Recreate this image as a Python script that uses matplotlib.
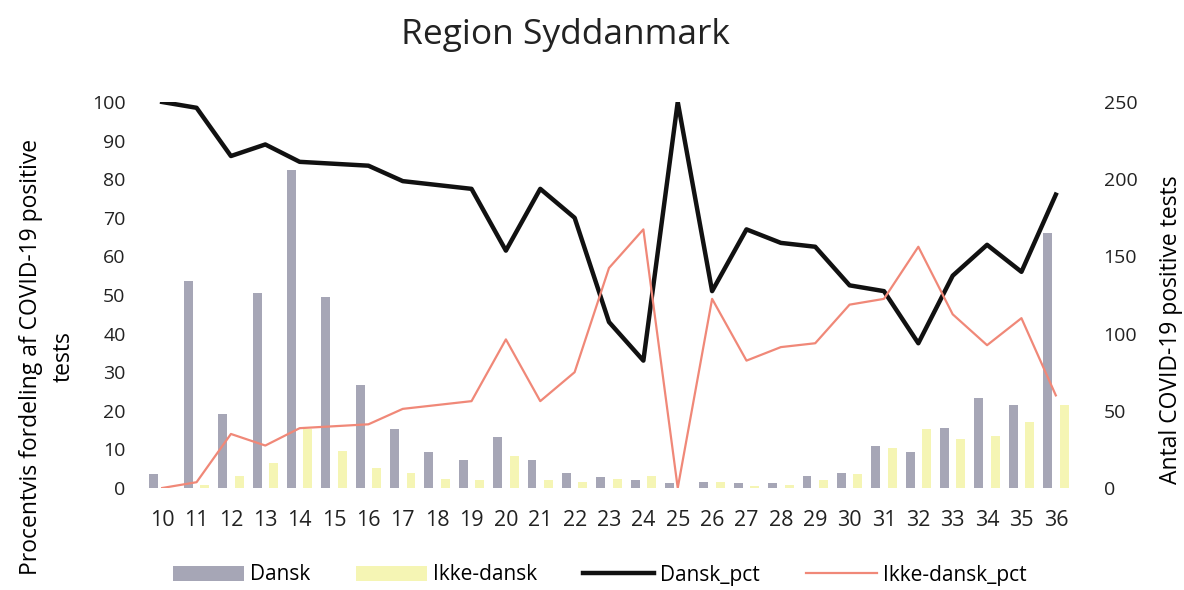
import matplotlib
matplotlib.use("Agg")
import matplotlib.pyplot as plt
import numpy as np

plt.rcParams['font.family'] = ['Open Sans', 'DejaVu Sans']

weeks = [str(w) for w in range(10, 37)]
dansk = [9, 134, 48, 126, 206, 124, 67, 38, 23, 18, 33, 18, 10, 7, 5, 3, 4, 3, 3,
         8, 10, 27, 23, 39, 58, 54, 165]
ikke_dansk = [0, 2, 8, 16, 38, 24, 13, 10, 6, 5, 21, 5, 4, 6, 8, 0, 4, 1.5, 2,
              5, 9, 26, 38, 32, 34, 43, 54]
dansk_pct = [100, 98.5, 86, 89, 84.5, 84, 83.5, 79.5, 78.5, 77.5, 61.5, 77.5, 70,
             43, 33, 100, 51, 67, 63.5, 62.5, 52.5, 51, 37.5, 55, 63, 56, 76]
ikke_dansk_pct = [0, 1.5, 14, 11, 15.5, 16, 16.5, 20.5, 21.5, 22.5, 38.5, 22.5, 30,
                  57, 67, 0, 49, 33, 36.5, 37.5, 47.5, 49, 62.5, 45, 37, 44, 24]

fig = plt.figure(figsize=(11.84, 5.9), dpi=100)
ax_bar = fig.add_axes([145 / 1184, 1 - 488 / 590, (1073 - 145) / 1184, (488 - 102) / 590])
ax_pct = ax_bar.twinx()

x = np.arange(len(weeks))
ax_bar.bar(x - 0.24, dansk, width=0.26, color='#a6a6b6', label='Dansk')
ax_bar.bar(x + 0.24, ikke_dansk, width=0.26, color='#f5f5b4', label='Ikke-dansk')
ax_bar.set_ylim(0, 250)
ax_bar.set_xlim(-0.5, len(weeks) - 0.5)
ax_bar.yaxis.tick_right()
ax_bar.yaxis.set_label_position('right')
ax_bar.set_yticks(np.arange(0, 251, 50))

ax_pct.plot(x, dansk_pct, color='#111111', lw=3.2, label='Dansk_pct')
ax_pct.plot(x, ikke_dansk_pct, color='#f08878', lw=1.6, label='Ikke-dansk_pct')
ax_pct.set_ylim(0, 100)
ax_pct.yaxis.tick_left()
ax_pct.yaxis.set_label_position('left')
ax_pct.set_yticks(np.arange(0, 101, 10))

for a in (ax_bar, ax_pct):
    for s in a.spines.values():
        s.set_visible(False)
    a.tick_params(length=0, labelsize=14, colors='#222222')

ax_bar.set_xticks(x)
ax_bar.set_xticklabels(weeks)
ax_bar.tick_params(axis='x', pad=16, labelsize=15.5)
ax_bar.tick_params(axis='y', pad=22)
ax_pct.tick_params(axis='y', pad=14)

ax_pct.set_ylabel('Procentvis fordeling af COVID-19 positive\ntests', fontsize=16.5,
                  linespacing=1.45)
ax_pct.yaxis.set_label_coords(-0.075, 0.34)
ax_bar.set_ylabel('Antal COVID-19 positive tests', fontsize=16.5)
ax_bar.yaxis.set_label_coords(1.093, 0.41)

fig.text(565 / 1184, 1 - 35 / 590, 'Region Syddanmark', fontsize=25.5, ha='center', va='center',
         color='#222222')

handles = ax_bar.get_legend_handles_labels()[0] + ax_pct.get_legend_handles_labels()[0]
labels = ['Dansk', 'Ikke-dansk', 'Dansk_pct', 'Ikke-dansk_pct']
fig.legend(handles, labels, loc='center', bbox_to_anchor=(600 / 1184, 1 - 575 / 590), ncol=4,
           frameon=False, fontsize=15, columnspacing=2.2, handlelength=3.4, handletextpad=0.3)

fig.savefig('out.png', dpi=100)
